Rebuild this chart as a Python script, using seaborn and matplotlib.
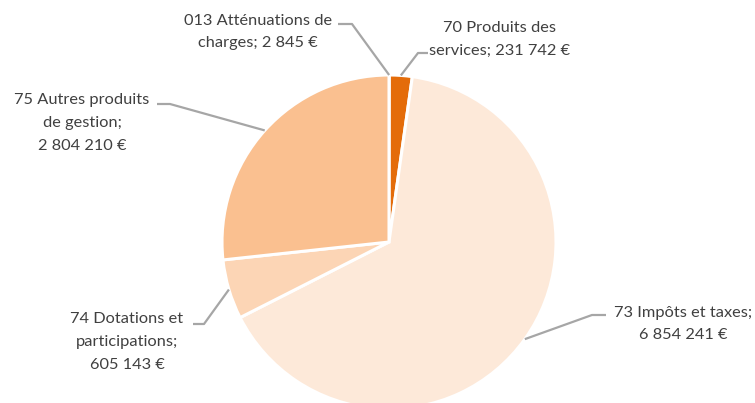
import numpy as np
import matplotlib
matplotlib.use("Agg")
import matplotlib.pyplot as plt
import seaborn as sns

# Recettes de fonctionnement par chapitre
categories = ["013 Atténuations de charges", "70 Produits des services",
              "73 Impôts et taxes", "74 Dotations et participations",
              "75 Autres produits de gestion"]
values = [2845, 231742, 6854241, 605143, 2804210]
labels = ["013 Atténuations de\ncharges; 2 845 €",
          "70 Produits des\nservices; 231 742 €",
          "73 Impôts et taxes;\n6 854 241 €",
          "74 Dotations et\nparticipations;\n605 143 €",
          "75 Autres produits\nde gestion;\n2 804 210 €"]
colors = ["#984807", "#E46C0A", "#FDE9D9", "#FCD5B5", "#FAC090"]

sns.set_theme(style="white")
plt.rcParams["font.family"] = ["Lato", "DejaVu Sans"]

W, H, DPI = 755, 403, 100
fig = plt.figure(figsize=(W / DPI, H / DPI), dpi=DPI)
ax = fig.add_axes([0, 0, 1, 1])

# pixel frame -> data units (radius 1 pie)
cx, cy, R = 389, 242, 167
def px(x, y):
    return (x - cx) / R, (cy - y) / R

wedges, _ = ax.pie(values, colors=sns.color_palette(colors), startangle=90,
                   counterclock=False, radius=1.0,
                   wedgeprops=dict(edgecolor="white", linewidth=2.2))

ax.set_xlim(px(0, 0)[0], px(W, 0)[0])
ax.set_ylim(px(0, H)[1], px(0, 0)[1])
ax.set_aspect("equal")
ax.axis("off")

# label text centre, elbow point and horizontal stub end (pixels)
label_pos = [(258, 32), (500, 39), (683, 324), (127, 342), (82, 123)]
elbows = [(352, 24), (418, 53), (592, 315), (204, 324), (170, 104)]
stubs = [(338, 24), (428, 53), (606, 315), (193, 324), (157, 104)]

line_col = "#A6A6A6"
text_col = "#404040"
for w, txt, lp, el, st in zip(wedges, labels, label_pos, elbows, stubs):
    ang = np.deg2rad((w.theta1 + w.theta2) / 2)
    x0, y0 = np.cos(ang), np.sin(ang)
    ex, ey = px(*el)
    sx, sy = px(*st)
    ax.plot([x0, ex, sx], [y0, ey, sy], color=line_col, lw=1.6,
            solid_capstyle="butt", zorder=3)
    tx, ty = px(*lp)
    ax.text(tx, ty, txt, ha="center", va="center", fontsize=11.8,
            color=text_col, linespacing=1.8, multialignment="center")

fig.savefig("out.png", dpi=DPI, facecolor="white")
